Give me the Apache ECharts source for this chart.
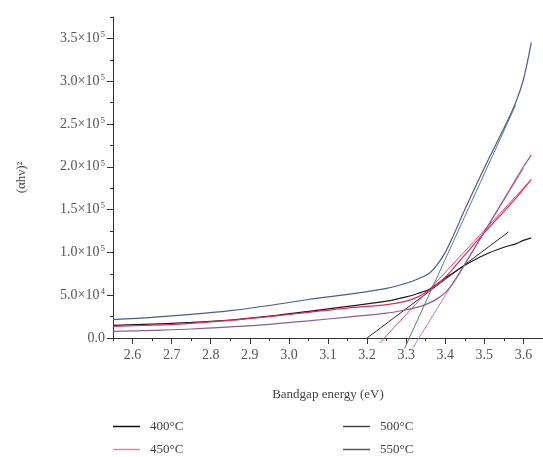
<!DOCTYPE html>
<html>
<head>
<meta charset="utf-8">
<script src="https://cdn.jsdelivr.net/npm/echarts@6/dist/echarts.min.js"></script>
<style>
  html, body { margin: 0; padding: 0; background: #fff; }
  #chart { width: 543px; height: 457px; }
</style>
</head>
<body>
<div id="chart"></div>
<script>
// Photon energy grid (eV) shared by the measured Tauc curves
const energy = [2.55, 2.65, 2.75, 2.85, 2.95, 3.05, 3.15, 3.25, 3.30, 3.33, 3.36, 3.38, 3.40, 3.42, 3.45, 3.50, 3.55, 3.58, 3.60, 3.62];

// (alpha h nu)^2 for each annealing temperature
const tauc400 = [14700, 16200, 18200, 21000, 25500, 31000, 37000, 43000, 48000, 52000, 57000, 63500, 70000, 76000, 85000, 97000, 106000, 110000, 114000, 117000];
const tauc450 = [13500, 15000, 17200, 20500, 25000, 30000, 35000, 39000, 43000, 48000, 56000, 63000, 71000, 81000, 97000, 123000, 148000, 163000, 174000, 185000];
const tauc500 = [21500, 24000, 27500, 32000, 38000, 45000, 51000, 58000, 64000, 69000, 76000, 86000, 100000, 119000, 150000, 199000, 245000, 275000, 302000, 345000];
const tauc550 = [7700, 9000, 10500, 13000, 16000, 20000, 24500, 29000, 33000, 36000, 41000, 46000, 53000, 64000, 86000, 124000, 162000, 185000, 200000, 214000];

// Linear extrapolations of the absorption edge (start / end points)
const fit400E = [3.200, 3.562], fit400V = [0, 124000];
const fit450E = [3.232, 3.620], fit450V = [-6000, 185000];
const fit500E = [3.296, 3.580], fit500V = [-12000, 272000];
const fit550E = [3.318, 3.600], fit550V = [-11000, 198000];

// Axis ticks
const xMajorTicks = [2.6, 2.7, 2.8, 2.9, 3.0, 3.1, 3.2, 3.3, 3.4, 3.5, 3.6];
const xMinorTicks = [2.55, 2.65, 2.75, 2.85, 2.95, 3.05, 3.15, 3.25, 3.35, 3.45, 3.55, 3.65];
const yMajorTicks = [0, 50000, 100000, 150000, 200000, 250000, 300000, 350000];
const yMinorTicks = [25000, 75000, 125000, 175000, 225000, 275000, 325000, 375000];

const seriesNames = ['400°C', '450°C', '500°C', '550°C'];

const FONT = '"Liberation Serif", "DejaVu Serif", serif';

function pairs(xs, ys) { return xs.map((x, i) => [x, ys[i]]); }

function curve(name, ys, color) {
  return {
    name: name, type: 'line', data: pairs(energy, ys),
    smooth: 0.3, showSymbol: false, symbol: 'none',
    lineStyle: { color: color, width: 1.2 }, itemStyle: { color: color },
    z: 3
  };
}
function fit(name, xs, ys, color) {
  return {
    name: name, type: 'line', data: pairs(xs, ys),
    showSymbol: false, symbol: 'none', clip: false,
    lineStyle: { color: color, width: 1 }, itemStyle: { color: color },
    z: 2
  };
}

function yLabel(v) {
  if (v === 0) return '0.0';
  const exp = Math.floor(Math.log10(v));
  const mant = (v / Math.pow(10, exp)).toFixed(1);
  return mant + '×10{s|' + exp + '}';
}

function legendBlock(left, names, colors) {
  return {
    orient: 'vertical', left: left, top: 420, height: 60, padding: 0, itemGap: 10,
    itemWidth: 27, itemHeight: 1.5, icon: 'rect',
    textStyle: { fontFamily: FONT, fontSize: 13, color: '#444', padding: [0, 0, 0, 5] },
    data: names.map((n, i) => ({ name: n, itemStyle: { color: colors[i] } }))
  };
}

const chart = echarts.init(document.getElementById('chart'), null, { renderer: 'canvas' });

chart.setOption({
  backgroundColor: '#ffffff',
  animation: false,
  grid: { left: 113, right: -12, top: 17, bottom: 119, containLabel: false },
  xAxis: [{
    type: 'value', min: 2.55, max: 3.65,
    name: 'Bandgap energy (eV)', nameLocation: 'middle', nameGap: 50,
    nameTextStyle: { fontFamily: FONT, fontSize: 13, color: '#444' },
    axisLine: { show: true, onZero: false, lineStyle: { color: '#333', width: 1 } },
    axisTick: { show: true, inside: false, length: 6, customValues: xMajorTicks, lineStyle: { color: '#333' } },
    axisLabel: { customValues: xMajorTicks, fontFamily: FONT, fontSize: 14, color: '#555', margin: 10,
      formatter: v => v.toFixed(1) },
    splitLine: { show: false }
  }, {
    type: 'value', min: 2.55, max: 3.65, position: 'bottom',
    axisLine: { show: false },
    axisTick: { show: true, length: 3, customValues: xMinorTicks, lineStyle: { color: '#333' } },
    axisLabel: { show: false },
    splitLine: { show: false }
  }],
  yAxis: [{
    type: 'value', min: 0, max: 375000,
    name: '(αhν)²', nameLocation: 'middle', nameGap: 85, nameRotate: 90,
    nameTextStyle: { fontFamily: FONT, fontSize: 13, color: '#444' },
    axisLine: { show: true, lineStyle: { color: '#333', width: 1 } },
    axisTick: { show: true, length: 6, customValues: yMajorTicks, lineStyle: { color: '#333' } },
    axisLabel: { customValues: yMajorTicks, fontFamily: FONT, fontSize: 14, color: '#555', margin: 8,
      formatter: yLabel,
      rich: { s: { fontFamily: FONT, fontSize: 9, color: '#555', verticalAlign: 'bottom', padding: [0, 0, 7, 1] } } },
    splitLine: { show: false }
  }, {
    type: 'value', min: 0, max: 375000, position: 'left',
    axisLine: { show: false },
    axisTick: { show: true, length: 3, customValues: yMinorTicks, lineStyle: { color: '#333' } },
    axisLabel: { show: false },
    splitLine: { show: false }
  }],
  legend: [
    legendBlock(113, [seriesNames[0], seriesNames[1]], ['#111', '#ee7a9c']),
    legendBlock(343, [seriesNames[2], seriesNames[3]], ['#444', '#555'])
  ],
  series: [
    curve(seriesNames[0], tauc400, '#1c1c1c'),
    curve(seriesNames[1], tauc450, '#e5295c'),
    curve(seriesNames[2], tauc500, '#4b5b8f'),
    curve(seriesNames[3], tauc550, '#8a5c9e'),
    fit('400°C fit', fit400E, fit400V, '#2a2a2a'),
    fit('450°C fit', fit450E, fit450V, '#e8457c'),
    fit('500°C fit', fit500E, fit500V, '#5b7f86'),
    fit('550°C fit', fit550E, fit550V, '#c47cbc')
  ]
});
</script>
</body>
</html>
